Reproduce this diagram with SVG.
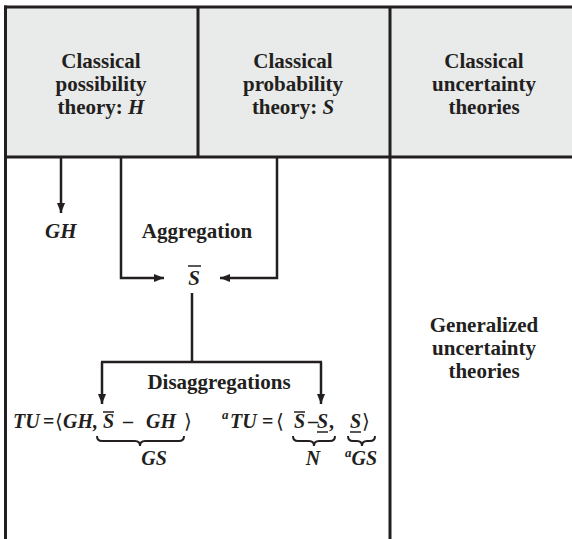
<svg xmlns="http://www.w3.org/2000/svg" width="572" height="539" viewBox="0 0 572 539">
<defs>
<style>
.t{font-family:"Liberation Serif","Times New Roman",serif;font-weight:bold;font-size:21px;fill:#231f20}
.f{font-size:20px}
.ang{font-family:"DejaVu Serif","Liberation Serif",serif;font-weight:normal;font-size:20px}
.i{font-style:italic}
.m{text-anchor:middle}
.sup{font-size:13px}
.b{stroke:#231f20;stroke-width:3;fill:none}
.c{stroke:#231f20;stroke-width:2.5;fill:none}
.br{stroke:#231f20;stroke-width:2;fill:none}
.bar{stroke:#231f20;stroke-width:1.5}
</style>
<marker id="ah" markerWidth="10" markerHeight="8" refX="10" refY="4" orient="auto" markerUnits="userSpaceOnUse">
<path d="M0,0 L10,4 L0,8 Z" fill="#231f20"/>
</marker>
</defs>
<rect x="0" y="0" width="572" height="539" fill="#ffffff"/>
<g id="header-possibility">
<rect x="5.5" y="7" width="192.5" height="150" fill="#e9eaea"/>
<text class="t m" x="101" y="68">Classical</text>
<text class="t m" x="101" y="91">possibility</text>
<text class="t m" x="101" y="114">theory: <tspan class="i">H</tspan></text>
</g>
<g id="header-probability">
<rect x="198" y="7" width="192" height="150" fill="#e9eaea"/>
<text class="t m" x="293" y="68">Classical</text>
<text class="t m" x="293" y="91">probability</text>
<text class="t m" x="293" y="114">theory: <tspan class="i">S</tspan></text>
</g>
<g id="header-uncertainty">
<rect x="390" y="7" width="182" height="150" fill="#e9eaea"/>
<text class="t m" x="484" y="68">Classical</text>
<text class="t m" x="484" y="91">uncertainty</text>
<text class="t m" x="484" y="114">theories</text>
</g>
<g id="generalized">
<text class="t m" x="484" y="332">Generalized</text>
<text class="t m" x="484" y="355">uncertainty</text>
<text class="t m" x="484" y="378">theories</text>
</g>
<g id="frame">
<line class="b" x1="4" y1="7" x2="572" y2="7"/>
<line class="b" x1="5.5" y1="5.5" x2="5.5" y2="539"/>
<line class="b" x1="5.5" y1="157" x2="572" y2="157"/>
<line class="b" x1="198" y1="7" x2="198" y2="157"/>
<line class="b" x1="390" y1="7" x2="390" y2="539"/>
</g>
<g id="gh">
<text class="t i" x="45" y="238">GH</text>
</g>
<g id="aggregation-label">
<text class="t m" x="197" y="238">Aggregation</text>
</g>
<g id="sbar">
<text class="t i m" x="194" y="285">S</text>
<line class="bar" x1="188" y1="266" x2="201" y2="266"/>
</g>
<g id="disaggregation-label">
<text class="t m" x="219" y="389">Disaggregations</text>
</g>
<g id="tu">
<text class="t f i" x="13" y="428">TU</text>
<text class="t f" x="43" y="428">=</text>
<text class="t ang" x="55" y="428">⟨</text>
<text class="t f i" x="63" y="428">GH,</text>
<text class="t f i" x="103" y="428">S</text>
<line class="bar" x1="103" y1="412" x2="114" y2="412"/>
<text class="t f" x="123" y="428">–</text>
<text class="t f i" x="146" y="428">GH</text>
<text class="t ang" x="184" y="428">⟩</text>
<path class="br" d="M97,436 Q97,441 102,441 L135,441 Q140,441 140,446 Q140,441 145,441 L179,441 Q184,441 184,436"/>
<text class="t f i m" x="154" y="465">GS</text>
</g>
<g id="atu">
<text class="t i sup" x="222" y="419">a</text>
<text class="t f i" x="230" y="428">TU</text>
<text class="t f" x="262" y="428">=</text>
<text class="t ang" x="276" y="428">⟨</text>
<text class="t f i" x="294" y="428">S</text>
<line class="bar" x1="294" y1="412" x2="305" y2="412"/>
<text class="t f" x="308" y="428">–</text>
<text class="t f i" x="317" y="428">S</text>
<line class="bar" x1="317" y1="432" x2="328" y2="432"/>
<text class="t f" x="329" y="428">,</text>
<text class="t f i" x="350" y="428">S</text>
<line class="bar" x1="350" y1="432" x2="361" y2="432"/>
<text class="t ang" x="362" y="428">⟩</text>
<path class="br" d="M293,436 Q293,441 298,441 L309,441 Q314,441 314,446 Q314,441 319,441 L330,441 Q335,441 335,436"/>
<path class="br" d="M348,436 Q348,441 353,441 L357,441 Q362,441 362,446 Q362,441 367,441 L370,441 Q375,441 375,436"/>
<text class="t f i m" x="313" y="465">N</text>
<text class="t f i" x="345" y="465"><tspan class="sup" dy="-8">a</tspan><tspan dy="8">GS</tspan></text>
</g>
<g id="connectors">
<line class="c" x1="61" y1="158" x2="61" y2="213" marker-end="url(#ah)"/>
<polyline class="c" points="121,158 121,278 164,278" marker-end="url(#ah)"/>
<polyline class="c" points="277,158 277,278 220,278" marker-end="url(#ah)"/>
<line class="c" x1="192" y1="293" x2="192" y2="362"/>
<line class="c" x1="101" y1="362" x2="322" y2="362"/>
<line class="c" x1="102" y1="362" x2="102" y2="404" marker-end="url(#ah)"/>
<line class="c" x1="321" y1="362" x2="321" y2="404" marker-end="url(#ah)"/>
</g>
</svg>
